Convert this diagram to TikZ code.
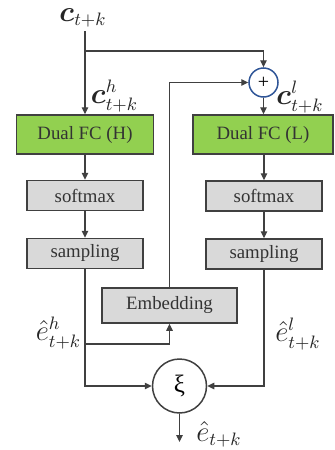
\documentclass[tikz,border=0pt]{standalone}
\usepackage{amsmath,bm}
\usepackage{fontspec}
\setmainfont{Liberation Serif}
\usetikzlibrary{arrows.meta}
\definecolor{fcgreen}{HTML}{92D050}
\definecolor{boxgray}{HTML}{D9D9D9}
\definecolor{linegray}{HTML}{404040}
\definecolor{plusblue}{HTML}{2F5597}
\begin{document}
\begin{tikzpicture}[x=0.5pt,y=-0.5pt,
  conn/.style={draw=linegray,line width=0.6pt,-{Triangle[length=3.5pt,width=3.2pt]}},
  fcbox/.style={draw=linegray,line width=0.75pt,fill=fcgreen,minimum height=19.5pt,inner sep=0pt,
    font=\fontsize{9.4}{11}\selectfont,text=black!80},
  graybox/.style={draw=linegray,line width=0.75pt,fill=boxgray,minimum width=58pt,minimum height=15pt,inner sep=0pt,
    font=\fontsize{9.4}{11}\selectfont,text=black!80},
  mlabel/.style={inner sep=0pt,font=\fontsize{13.5}{16}\selectfont,text=black!85},
  opcircle/.style={circle,inner sep=0pt,line width=0.75pt}
]
\useasboundingbox (0,0) rectangle (334,450);
% boxes
\node[fcbox,minimum width=68.5pt] (fcH) at (85,134.5) {Dual FC (H)};
\node[fcbox,minimum width=70pt] (fcL) at (263,134.5) {Dual FC (L)};
\node[graybox] (smH) at (85,195.5) {softmax};
\node[graybox] (smL) at (264,196) {softmax};
\node[graybox] (saH) at (85,253.5) {sampling};
\node[graybox] (saL) at (264,254) {sampling};
\node[graybox,minimum width=67.5pt,minimum height=17.5pt] (emb) at (169.5,305.5) {Embedding};
\node[opcircle,draw=plusblue,minimum size=14.5pt,font=\fontsize{10}{12}\selectfont] (plus) at (263.5,82.5) {+};
\node[opcircle,draw=linegray,minimum size=27pt,font=\fontsize{12.5}{14}\selectfont] (xi) at (179.5,386) {ξ};
% labels
\node[mlabel] (cin) at (83,18) {$\bm{c}_{t+k}$};
\node[mlabel] (ch) at (114.5,96) {$\bm{c}^{h}_{t+k}$};
\node[mlabel] (cl) at (300,97) {$\bm{c}^{l}_{t+k}$};
\node[mlabel] (eh) at (58.5,333) {$\hat{e}^{h}_{t+k}$};
\node[mlabel] (el) at (298,334) {$\hat{e}^{l}_{t+k}$};
\node[mlabel] (eout) at (219,434) {$\hat{e}_{t+k}$};
% coordinates
\coordinate (top) at (85,31);
\coordinate (split) at (85,51);
\coordinate (hbr) at (85,344);
\coordinate (outend) at (179.5,442);
% connectors
\draw[conn] (top) -- (fcH.north);
\draw[conn] (split) -| (plus.north);
\draw[conn] (plus.south) -- (plus.south |- fcL.north);
\draw[conn] (emb.north) |- (plus.west);
\draw[conn] (fcH.south) -- (smH.north);
\draw[conn] (smH.south) -- (saH.north);
\draw[conn] (fcL.south -| smL.north) -- (smL.north);
\draw[conn] (smL.south) -- (saL.north);
\draw[conn] (saH.south) |- (xi.west);
\draw[conn] (hbr) -| (emb.south);
\draw[conn] (saL.south) |- (xi.east);
\draw[conn] (xi.south) -- (outend);
\end{tikzpicture}
\end{document}
